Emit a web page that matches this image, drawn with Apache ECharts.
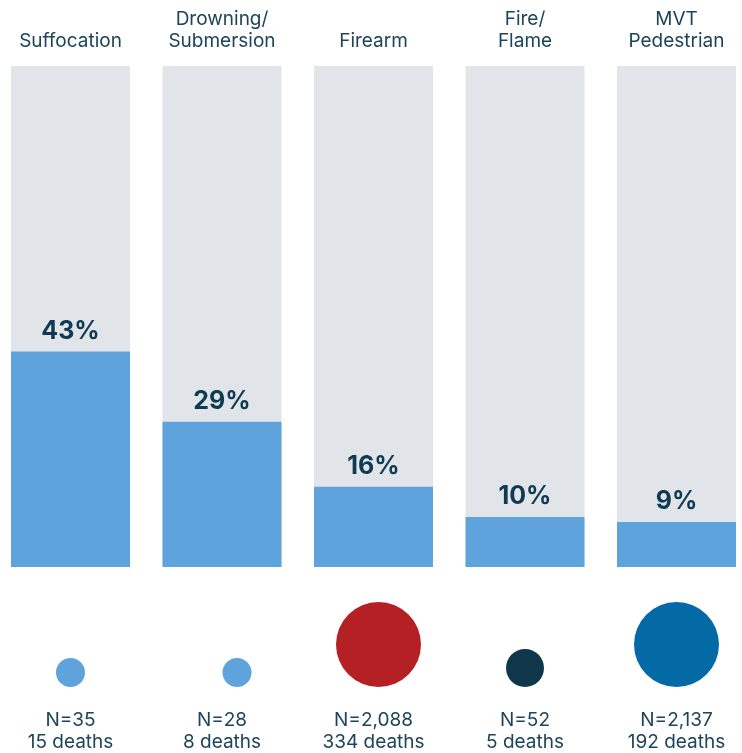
<!DOCTYPE html>
<html>
<head>
<meta charset="utf-8">
<script src="https://cdn.jsdelivr.net/npm/echarts@6/dist/echarts.min.js"></script>
<style>
  html, body { margin: 0; padding: 0; background: #ffffff; }
  #chart { width: 742px; height: 753px; }
</style>
</head>
<body>
<div id="chart"></div>
<script>
// Injury mechanisms
const categories = ['Suffocation', 'Drowning/\nSubmersion', 'Firearm', 'Fire/\nFlame', 'MVT\nPedestrian'];
// Share shown as the filled part of each column (%)
const percentValues = [43, 29, 16, 10, 9];
// Cases and deaths per mechanism
const sampleSizes = [35, 28, 2088, 52, 2137];
const deathCounts = [15, 8, 334, 5, 192];

// Circle styling under each column
const circleDiameters = [29, 29, 85, 38, 85];
const circleColors = ['#5fa3dd', '#5fa3dd', '#b52025', '#0f364b', '#046aa6'];
const circleShiftX = [0, 15, 5, 0, 0];

const fontFamily = 'Inter, "Noto Sans", sans-serif';
const textColor = '#1d4459';
const fmt = n => n.toLocaleString('en-US');

const chart = echarts.init(document.getElementById('chart'), null, { renderer: 'canvas' });

chart.setOption({
  animation: false,
  backgroundColor: '#ffffff',
  grid: [
    { left: -5.25, right: -10.25, top: 66, height: 501, outerBoundsMode: 'none', containLabel: false },
    { left: -5.25, right: -10.25, top: 590, height: 97, outerBoundsMode: 'none', containLabel: false }
  ],
  xAxis: [
    {
      gridIndex: 0,
      type: 'category',
      position: 'top',
      data: categories,
      axisLine: { show: false },
      axisTick: { show: false },
      axisLabel: {
        margin: 14,
        fontFamily,
        fontSize: 19,
        lineHeight: 22,
        color: textColor,
        align: 'center'
      }
    },
    {
      gridIndex: 1,
      type: 'category',
      position: 'bottom',
      data: categories,
      axisLine: { show: false },
      axisTick: { show: false },
      axisLabel: {
        margin: 22,
        fontFamily,
        fontSize: 19,
        lineHeight: 22,
        color: textColor,
        align: 'center',
        formatter: (value, index) => 'N=' + fmt(sampleSizes[index]) + '\n' + fmt(deathCounts[index]) + ' deaths'
      }
    }
  ],
  yAxis: [
    { gridIndex: 0, type: 'value', min: 0, max: 100, show: false },
    { gridIndex: 1, type: 'value', min: 0, max: 1, show: false }
  ],
  series: [
    {
      type: 'bar',
      xAxisIndex: 0,
      yAxisIndex: 0,
      data: percentValues,
      barWidth: 119,
      showBackground: true,
      backgroundStyle: { color: '#e1e5e9' },
      itemStyle: { color: '#5fa3dd' },
      label: {
        show: true,
        position: 'top',
        distance: 8,
        formatter: '{c}%',
        fontFamily,
        fontSize: 25,
        fontWeight: 'bold',
        color: '#0f3a52'
      }
    },
    {
      type: 'scatter',
      xAxisIndex: 1,
      yAxisIndex: 1,
      data: sampleSizes.map((n, i) => ({
        value: [i, 0],
        symbolSize: circleDiameters[i],
        symbolOffset: [circleShiftX[i], -circleDiameters[i] / 2],
        itemStyle: { color: circleColors[i], opacity: 1 }
      })),
      symbol: 'circle',
      silent: true
    }
  ]
});
</script>
</body>
</html>
